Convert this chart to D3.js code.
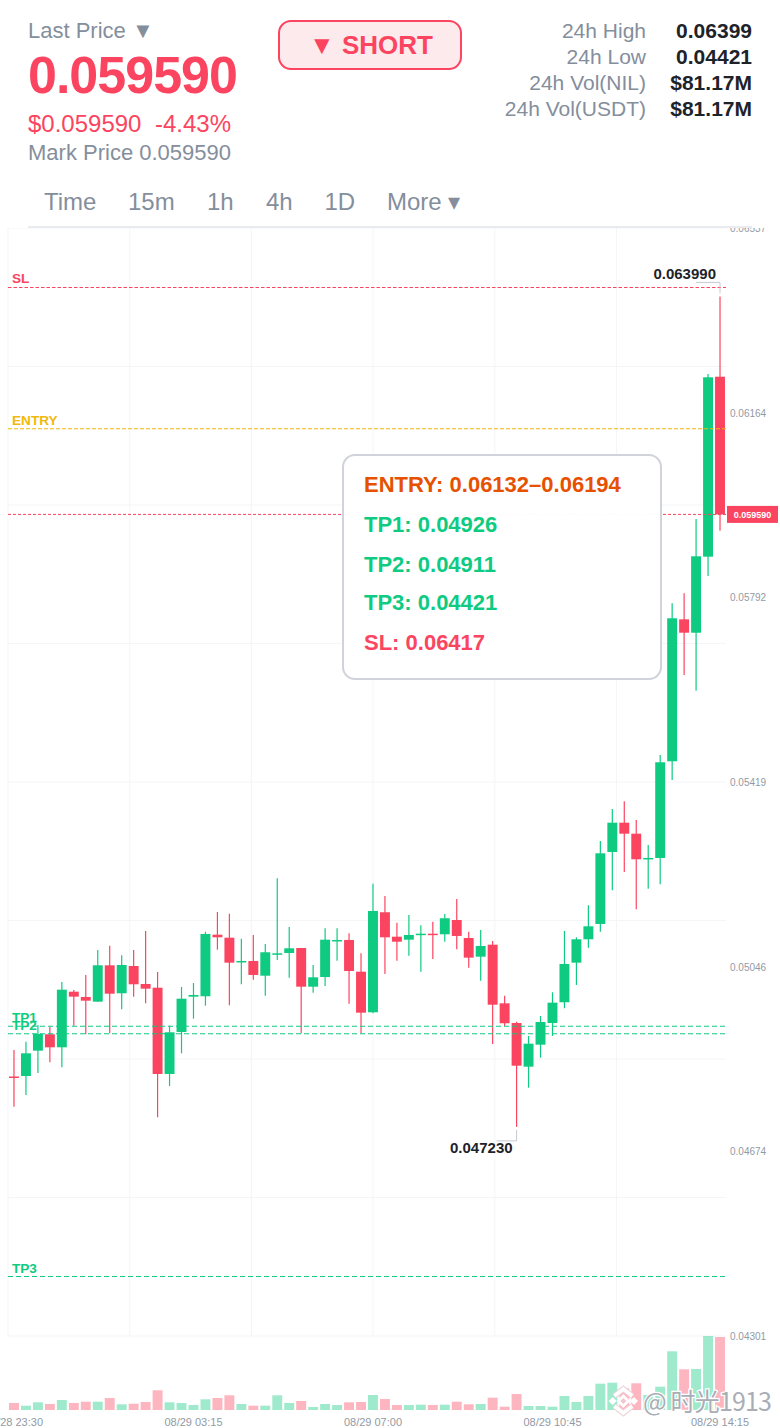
<!DOCTYPE html>
<html><head><meta charset="utf-8">
<script src="https://cdn.jsdelivr.net/npm/d3@7/dist/d3.min.js"></script>
<style>html,body{margin:0;padding:0;background:#fff}svg{display:block;font-family:"Liberation Sans",Arial,sans-serif}</style>
</head><body><div id="chart"></div>
<script>
const opens=[.048247,.048257,.048768,.049099,.048836,.049958,.049852,.049757,.050491,.049926,.050477,.050114,.050039,.048298,.049145,.049858,.049866,.051109,.051048,.050564,.050578,.050281,.050705,.050739,.050840,.050059,.050255,.050982,.051002,.050362,.049543,.051561,.051068,.051008,.051109,.051129,.051117,.051405,.051042,.050665,.050907,.049724,.049327,.048445,.048889,.049327,.049745,.050544,.051016,.051325,.052778,.053369,.053147,.052630,.052657,.054608,.057473,.057203,.058737,.062369];
const highs=[.048782,.048949,.049286,.049252,.050154,.049993,.050296,.050800,.050887,.050693,.050800,.051183,.050356,.049272,.050053,.050134,.051169,.051567,.051533,.051028,.051103,.050921,.052247,.051264,.050840,.050497,.051238,.051238,.051137,.050733,.052138,.051890,.051351,.051506,.051298,.051371,.051526,.051829,.051169,.051204,.050982,.049878,.049353,.049065,.049468,.049946,.051183,.051056,.051702,.053000,.053645,.053801,.053423,.052919,.054735,.057796,.057998,.059497,.062423,.063990];
const lows=[.047638,.047874,.048318,.048534,.048433,.049272,.049099,.049757,.049119,.049603,.049858,.049724,.047424,.048056,.048715,.049414,.049676,.050806,.049684,.050108,.050201,.049878,.050598,.050241,.049119,.049938,.050074,.050584,.049716,.049119,.049523,.050316,.050584,.050685,.050362,.050618,.050967,.050814,.050443,.050180,.048903,.049266,.047230,.048021,.048627,.049065,.049624,.050094,.050846,.051169,.052005,.052374,.051621,.052037,.052126,.054231,.056350,.056033,.058347,.059262];
const closes=[.048227,.048715,.049105,.048836,.049999,.049858,.049777,.050491,.049918,.050497,.050108,.050019,.048298,.049139,.049817,.049892,.051123,.051056,.050544,.050578,.050296,.050754,.050733,.050834,.050059,.050249,.051008,.051002,.050376,.049535,.051587,.051056,.050967,.051103,.051129,.051109,.051440,.051083,.050645,.050881,.049696,.049321,.048465,.048909,.049347,.049737,.050517,.051016,.051278,.052751,.053369,.053147,.052630,.052657,.054588,.057494,.057203,.058745,.062357,.059590];
const volumes=[7,4.3,7.7,6,10,7,8.3,8.3,12,5.7,6.3,8,19.7,7.7,7,5,10.7,12,14.7,6,4.3,4.3,14.7,7,9,3,6,5,7.7,8,15,11,5,5,5.3,5,5.3,8.3,5.7,6,12.3,3.3,16,4,4,3.3,14,8,14,26.3,27.3,21.7,26.7,15,23.3,58.7,40.7,41,74,73];
const priceTicks=[0.06537,0.06164,0.05792,0.05419,0.05046,0.04674,0.04301];
const timeLabels=[[0,"08/28 23:30"],[15,"08/29 03:15"],[30,"08/29 07:00"],[45,"08/29 10:45"],[59,"08/29 14:15"]];
const levels=[["SL",0.06417,"#fb4560","3.5,2"],["ENTRY",0.06132,"#f0b90b","4,2"],["TP1",0.04926,"#0ecb81","5,3"],["TP2",0.04911,"#0ecb81","5,3"],["TP3",0.04421,"#0ecb81","5,3"]];
const lastPrice=0.05959, highLabel="0.063990", lowLabel="0.047230";
const tooltipRows=[["ENTRY: 0.06132–0.06194","#e65100"],["TP1: 0.04926","#0ecb81"],["TP2: 0.04911","#0ecb81"],["TP3: 0.04421","#0ecb81"],["SL: 0.06417","#fb4560"]];
const statLabels=["24h High","24h Low","24h Vol(NIL)","24h Vol(USDT)"], statValues=["0.06399","0.04421","$81.17M","$81.17M"];
const tabs=[["Time",44],["15m",128],["1h",207],["4h",266],["1D",324.5],["More ▾",387]];

const RED="#fb4560",GREEN="#0ecb81",GRAY="#848e9c",AX="#929aa5",GRID="#f4f5f7",DARK="#1e2329";
const W=780,H=1428,L=8,R=726,T=228,B=1336;
const svg=d3.select("#chart").append("svg").attr("width",W).attr("height",H);
const idx=d3.range(opens.length);
const x=d3.scaleBand().domain(idx).range([L,R]).paddingInner(0.17).paddingOuter(0.085);
const cx=i=>x(i)+x.bandwidth()/2;
const y=d3.scaleLinear().domain([0.04301,0.06537]).range([B,T]);
const vy=d3.scaleLinear().domain([0,74]).range([1410,B]);
const color=i=>closes[i]>=opens[i]?GREEN:RED;

// header
const t=(s,px,py,size,fill,opt={})=>svg.append("text").attr("x",px).attr("y",py).attr("font-size",size).attr("fill",fill)
  .attr("font-weight",opt.bold?"bold":null).attr("text-anchor",opt.anchor||"start").attr("letter-spacing",opt.ls||null).text(s);
t("Last Price ▼",28,38,22,GRAY);
t("0.059590",28,93,52,RED,{bold:1,ls:-1});
t("$0.059590",28,132,24,RED);
t("-4.43%",155,132,24,RED);
t("Mark Price 0.059590",28,160,22,GRAY);
svg.append("rect").attr("x",279).attr("y",21).attr("width",182).attr("height",48).attr("rx",12).attr("fill","#fdeaec").attr("stroke",RED).attr("stroke-width",2);
t("▼ SHORT",371,54,26,RED,{bold:1,anchor:"middle"});
statLabels.forEach((s,i)=>{t(s,646,38+26*i,21,GRAY,{anchor:"end"});t(statValues[i],752,38+26*i,21,DARK,{bold:1,anchor:"end"});});
tabs.forEach(d=>t(d[0],d[1],210,24,GRAY));
svg.append("line").attr("x1",28).attr("x2",752).attr("y1",227).attr("y2",227).attr("stroke","#e9ebee").attr("stroke-width",2);

// grid
const defs=svg.append("defs");
defs.append("clipPath").attr("id","plot").append("rect").attr("x",0).attr("y",T).attr("width",W).attr("height",H-T);
const g=svg.append("g").attr("clip-path","url(#plot)");
const gridV=[0,10,20,30,40,50].map(i=>L+(i/10)*121.7);
g.selectAll(".gv").data(gridV).join("line").attr("x1",d=>d).attr("x2",d=>d).attr("y1",T).attr("y2",B).attr("stroke",GRID);
g.selectAll(".gh").data(d3.range(9).map(i=>y.invert(T+i*(B-T)/8))).join("line").attr("x1",L).attr("x2",R).attr("y1",d=>y(d)).attr("y2",d=>y(d)).attr("stroke",GRID);

// axis labels
g.selectAll(".pt").data(priceTicks).join("text").attr("x",730).attr("y",d=>y(d)+4.2).attr("font-size",10).attr("fill",AX).text(d=>d.toFixed(5));
svg.selectAll(".tl").data(timeLabels).join("text").attr("x",d=>cx(d[0])).attr("y",1425.5).attr("text-anchor","middle").attr("font-size",11).attr("fill",AX).text(d=>d[1]);

// volume
g.selectAll(".v").data(idx).join("rect").attr("x",i=>x(i)).attr("width",x.bandwidth()).attr("y",i=>vy(volumes[i])).attr("height",i=>vy(0)-vy(volumes[i])).attr("fill",color).attr("fill-opacity",0.4);

// candles
g.selectAll(".w").data(idx).join("line").attr("x1",cx).attr("x2",cx).attr("y1",i=>y(highs[i])).attr("y2",i=>y(lows[i])).attr("stroke",color).attr("stroke-width",1.2);
g.selectAll(".b").data(idx).join("rect").attr("x",i=>x(i)).attr("width",x.bandwidth()).attr("y",i=>y(Math.max(opens[i],closes[i]))).attr("height",i=>Math.max(1.5,Math.abs(y(opens[i])-y(closes[i])))).attr("fill",color);

// levels
levels.forEach(d=>{
  g.append("line").attr("x1",L).attr("x2",R).attr("y1",y(d[1])).attr("y2",y(d[1])).attr("stroke",d[2]).attr("stroke-width",1.1).attr("stroke-dasharray",d[3]);
  g.append("text").attr("x",12).attr("y",y(d[1])-4).attr("font-size",13.6).attr("font-weight","bold").attr("fill",d[2]).text(d[0]);
});
g.append("line").attr("x1",L).attr("x2",R).attr("y1",y(lastPrice)).attr("y2",y(lastPrice)).attr("stroke",RED).attr("stroke-dasharray","3,2");
g.append("rect").attr("x",727).attr("y",y(lastPrice)-8.5).attr("width",51).attr("height",17).attr("fill",RED);
g.append("text").attr("x",752.5).attr("y",y(lastPrice)+3.3).attr("text-anchor","middle").attr("font-size",9).attr("font-weight","bold").attr("fill","#fff").text(lastPrice.toFixed(6));

// hi/lo markers
const last=idx.length-1, lowI=42;
const hiY=y(highs[last]), loY=y(lows[lowI]);
g.append("path").attr("d",`M${cx(last)-24},${hiY-14}H${cx(last)}V${hiY-3}`).attr("fill","none").attr("stroke","#c5cad1");
t(highLabel,716,278.5,15,DARK,{bold:1,anchor:"end"});
g.append("path").attr("d",`M${cx(lowI)-20},${loY+14}H${cx(lowI)}V${loY+3}`).attr("fill","none").attr("stroke","#c5cad1");
t(lowLabel,450,1153,15,DARK,{bold:1});

// tooltip
svg.append("rect").attr("x",343).attr("y",455).attr("width",318).attr("height",224).attr("rx",12).attr("fill","#fff").attr("fill-opacity",0.97).attr("stroke","#d0d3d9").attr("stroke-width",2);
const rowY=[492,532,572,610,650];
tooltipRows.forEach((d,i)=>t(d[0],364,rowY[i],22,d[1],{bold:1}));

// watermark
const wm=svg.append("g");
const cxL=623.3,cyL=1401;
const chevrons=[`M${cxL-9},${cyL-5}L${cxL},${cyL-12}L${cxL+9},${cyL-5}`,`M${cxL-9},${cyL+5}L${cxL},${cyL+12}L${cxL+9},${cyL+5}`];
wm.selectAll(".c1").data(chevrons).join("path").attr("d",d=>d).attr("fill","none").attr("stroke","#efd3d9").attr("stroke-width",6);
wm.selectAll(".c2").data(chevrons).join("path").attr("d",d=>d).attr("fill","none").attr("stroke","#fff").attr("stroke-width",3.5);
const logo=[[cxL,cyL,7,"#fff"],[cxL,cyL,3,"#f3c6cf"],[cxL-10.7,cyL,4,"#fff"],[cxL+10.7,cyL,4,"#fff"]];
wm.selectAll(".d").data(logo).join("path").attr("d",d=>`M${d[0]},${d[1]-d[2]}L${d[0]+d[2]},${d[1]}L${d[0]},${d[1]+d[2]}L${d[0]-d[2]},${d[1]}Z`).attr("fill",d=>d[3]);
wm.append("text").attr("x",643).attr("y",1410.5).attr("font-family","'Noto Sans CJK SC','Liberation Sans'").attr("font-size",25).attr("textLength",129).attr("lengthAdjust","spacing").attr("fill","#a9adb5").attr("stroke","#fff").attr("stroke-width",2.5).attr("paint-order","stroke").text("@ 时光1913");
</script></body></html>
